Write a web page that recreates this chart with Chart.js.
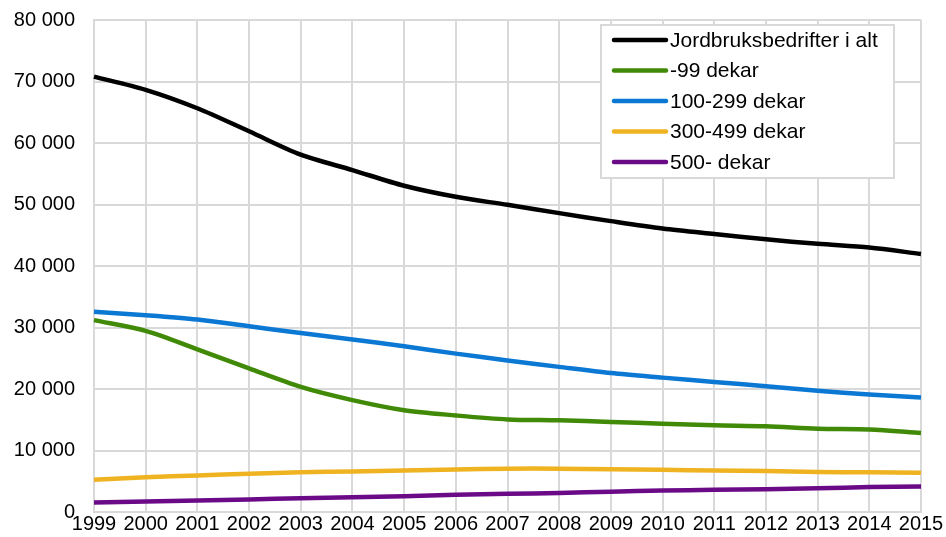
<!DOCTYPE html>
<html>
<head>
<meta charset="utf-8">
<script src="https://cdn.jsdelivr.net/npm/chart.js@4/dist/chart.umd.min.js"></script>
<style>
html,body{margin:0;padding:0;background:#fff;}
#wrap{width:946px;height:537px;position:relative;}
</style>
</head>
<body>
<div id="wrap"><canvas id="c" width="946" height="537"></canvas></div>
<script>
const years = ['1999','2000','2001','2002','2003','2004','2005','2006','2007','2008','2009','2010','2011','2012','2013','2014','2015'];
const seriesNames = ['Jordbruksbedrifter i alt','-99 dekar','100-299 dekar','300-499 dekar','500- dekar'];
const totalAll = [70800,68650,65650,61900,58100,55600,53050,51250,49950,48600,47300,46100,45200,44350,43600,43000,41950];
const under99 = [31200,29450,26450,23350,20350,18200,16550,15700,15050,14900,14650,14350,14100,13950,13550,13400,12850];
const d100to299 = [32550,32000,31300,30200,29100,28050,26950,25750,24650,23600,22600,21850,21150,20450,19700,19100,18600];
const d300to499 = [5250,5650,5950,6200,6450,6600,6750,6900,7050,7050,6950,6850,6750,6650,6500,6450,6400];
const over500 = [1550,1700,1850,2050,2250,2400,2550,2800,2950,3100,3300,3500,3600,3700,3850,4050,4150];
const yTicks = [0,10000,20000,30000,40000,50000,60000,70000,80000];

const colors = ['#000000','#418a07','#0b78d4','#efb321','#6b0a87'];
const values = [totalAll, under99, d100to299, d300to499, over500];

const fmt = v => String(v).replace(/\B(?=(\d{3})+(?!\d))/g, ' ');
const FONT = '"Liberation Sans", Arial, sans-serif';

const legendPlugin = {
  id: 'boxLegend',
  afterDraw(chart) {
    const ctx = chart.ctx;
    const x0 = 601, y0 = 25, w = 293, h = 153;
    ctx.save();
    ctx.fillStyle = '#ffffff';
    ctx.fillRect(x0, y0, w, h);
    ctx.strokeStyle = '#d9d9d9';
    ctx.lineWidth = 2;
    ctx.strokeRect(x0, y0, w, h);
    ctx.font = '21px ' + FONT;
    ctx.textBaseline = 'middle';
    ctx.textAlign = 'left';
    chart.data.datasets.forEach((ds, i) => {
      const y = 40 + i * 30.5;
      ctx.strokeStyle = ds.borderColor;
      ctx.lineWidth = 4.5;
      ctx.lineCap = 'round';
      ctx.beginPath();
      ctx.moveTo(614, y);
      ctx.lineTo(666, y);
      ctx.stroke();
      ctx.fillStyle = '#000';
      ctx.fillText(ds.label, 670, y + 1);
    });
    ctx.restore();
  }
};

new Chart(document.getElementById('c'), {
  type: 'line',
  data: {
    labels: years,
    datasets: seriesNames.map((n, i) => ({
      label: n,
      data: values[i],
      borderColor: colors[i],
      backgroundColor: colors[i],
      borderWidth: 4.5,
      pointRadius: 0,
      tension: 0.3,
      fill: false
    }))
  },
  options: {
    responsive: false,
    animation: false,
    layout: { autoPadding: false, padding: { top: 20, right: 25, left: 0, bottom: 0 } },
    plugins: { legend: { display: false }, tooltip: { enabled: false } },
    scales: {
      x: {
        grid: { color: '#d9d9d9', lineWidth: 2, tickLength: 0, drawTicks: false },
        border: { color: '#d9d9d9', width: 2 },
        ticks: { color: '#000', font: { family: FONT, size: 20 }, padding: 0, maxRotation: 0, autoSkip: false },
        afterFit(s) { s.height = 25; s.paddingLeft = 0; s.paddingRight = 0; }
      },
      y: {
        min: 0, max: 80000,
        afterBuildTicks(s) { s.ticks = yTicks.map(v => ({ value: v })); },
        grid: { color: '#d9d9d9', lineWidth: 2, drawTicks: false },
        border: { color: '#d9d9d9', width: 2 },
        ticks: { color: '#000', font: { family: FONT, size: 20 }, padding: 19, callback: v => fmt(v) },
        afterFit(s) { s.width = 94; s.paddingTop = 0; s.paddingBottom = 0; }
      }
    }
  },
  plugins: [legendPlugin]
});
</script>
</body>
</html>
